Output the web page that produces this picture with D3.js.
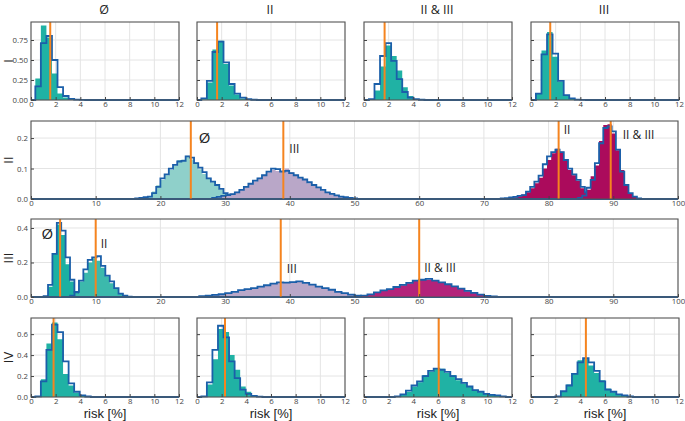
<!DOCTYPE html>
<html>
<head>
<meta charset="utf-8">
<script src="https://cdn.jsdelivr.net/npm/d3@7"></script>
<style>
body{margin:0;background:#fff}
text{font-family:"Open Sans",sans-serif}
</style>
</head>
<body>
<svg id="chart" width="685" height="421"></svg>
<script>
// ---- data ----
const columns = ["Ø", "II", "II & III", "III"];
const rows = ["I", "II", "III", "IV"];
const xLabel = "risk [%]";

const smallTicks = [0, 2, 4, 6, 8, 10, 12];
const wideTicks = [0, 10, 20, 30, 40, 50, 60, 70, 80, 90, 100];
const rowITicksY = [0, 0.25, 0.5, 0.75];
const rowIITicksY = [0, 0.1, 0.2];
const rowIIITicksY = [0, 0.2, 0.4];
const rowIVTicksY = [0, 0.2, 0.4, 0.6];

// row I : one histogram per column, bin width 0.45
const rowIStart = [0.35, 0.35, 0.4, 0.4];
const rowIFill = [
  [0.27, 0.93, 0.78, 0.33, 0.08, 0.03, 0.01, 0.003, 0.001],
  [0.01, 0.22, 0.63, 0.74, 0.45, 0.18, 0.07, 0.02, 0.01, 0.003],
  [0.005, 0.12, 0.42, 0.68, 0.55, 0.37, 0.16, 0.05, 0.01, 0.003],
  [0.08, 0.62, 0.85, 0.54, 0.23, 0.06, 0.015, 0.004, 0.001]
];
const rowIOutline = [
  [0.17, 0.71, 0.80, 0.50, 0.16, 0.05, 0.015, 0.005, 0.002],
  [0.02, 0.24, 0.60, 0.73, 0.47, 0.20, 0.08, 0.03, 0.01, 0.003],
  [0.01, 0.20, 0.55, 0.71, 0.49, 0.26, 0.10, 0.03, 0.01, 0.003],
  [0.08, 0.57, 0.82, 0.58, 0.24, 0.06, 0.02, 0.005, 0.002]
];
const rowIMean = [1.56, 1.63, 1.67, 1.56];

// row IV : one histogram per column, bin width 0.45
const rowIVStart = [0.35, 0.35, 2.5, 1.97];
const rowIVFill = [
  [0.004, 0.17, 0.51, 0.71, 0.55, 0.22, 0.11, 0.04, 0.01, 0.004],
  [0.004, 0.12, 0.36, 0.65, 0.62, 0.40, 0.26, 0.10, 0.05, 0.02, 0.008],
  [0.004, 0.02, 0.05, 0.10, 0.14, 0.21, 0.24, 0.275, 0.27, 0.23, 0.21, 0.16, 0.13, 0.095, 0.07, 0.045, 0.03, 0.02, 0.012, 0.005],
  [0.004, 0.05, 0.12, 0.23, 0.35, 0.37, 0.30, 0.23, 0.16, 0.08, 0.045, 0.028, 0.012, 0.004]
];
const rowIVOutline = [
  [0.006, 0.15, 0.45, 0.69, 0.62, 0.34, 0.13, 0.05, 0.015, 0.005],
  [0.006, 0.14, 0.45, 0.68, 0.57, 0.34, 0.18, 0.07, 0.03, 0.01, 0.004],
  [0.006, 0.025, 0.06, 0.11, 0.15, 0.20, 0.25, 0.27, 0.26, 0.24, 0.20, 0.17, 0.135, 0.10, 0.065, 0.05, 0.03, 0.02, 0.015, 0.006],
  [0.006, 0.055, 0.11, 0.22, 0.33, 0.37, 0.33, 0.25, 0.15, 0.07, 0.05, 0.025, 0.015, 0.005]
];
const rowIVMean = [1.83, 2.27, 6.06, 4.45];

// row II : all four sets on one wide axis
const rowIISeries = ["Ø", "III", "II", "II & III"];
const rowIIStart = [16.1, 28, 72.6, 84.55];
const rowIIBin = [0.65, 0.7, 0.65, 0.65];
const rowIIFill = [
  [0.001, 0.003, 0.005, 0.01, 0.025, 0.045, 0.062, 0.078, 0.095, 0.11, 0.128, 0.13, 0.142, 0.13, 0.12, 0.098, 0.082, 0.07, 0.055, 0.045, 0.03, 0.02, 0.012, 0.006, 0.003, 0.001, 0.001],
  [0.003, 0.006, 0.009, 0.012, 0.017, 0.024, 0.032, 0.042, 0.052, 0.058, 0.07, 0.08, 0.088, 0.095, 0.092, 0.094, 0.1, 0.088, 0.08, 0.072, 0.062, 0.052, 0.045, 0.036, 0.028, 0.021, 0.016, 0.011, 0.007, 0.005, 0.003, 0.002],
  [0.001, 0.003, 0.004, 0.006, 0.009, 0.015, 0.022, 0.035, 0.052, 0.07, 0.1, 0.128, 0.15, 0.165, 0.155, 0.13, 0.095, 0.078, 0.06, 0.035, 0.02, 0.01, 0.004, 0.001],
  [0.003, 0.013, 0.03, 0.075, 0.11, 0.19, 0.243, 0.245, 0.215, 0.16, 0.095, 0.044, 0.018, 0.007, 0.002]
];
const rowIIOutline = [
  [0.002, 0.004, 0.006, 0.008, 0.019, 0.04, 0.068, 0.081, 0.10, 0.112, 0.123, 0.125, 0.14, 0.136, 0.118, 0.103, 0.088, 0.068, 0.057, 0.046, 0.033, 0.019, 0.013, 0.008, 0.004, 0.002, 0.001],
  [0.004, 0.007, 0.01, 0.013, 0.016, 0.022, 0.03, 0.04, 0.05, 0.06, 0.068, 0.078, 0.09, 0.1, 0.098, 0.09, 0.092, 0.085, 0.078, 0.07, 0.064, 0.055, 0.046, 0.038, 0.03, 0.022, 0.017, 0.012, 0.008, 0.006, 0.004, 0.002],
  [0.002, 0.003, 0.005, 0.007, 0.01, 0.013, 0.024, 0.04, 0.057, 0.077, 0.114, 0.14, 0.154, 0.162, 0.154, 0.128, 0.10, 0.081, 0.063, 0.04, 0.022, 0.013, 0.005, 0.002],
  [0.004, 0.011, 0.037, 0.063, 0.118, 0.183, 0.233, 0.238, 0.222, 0.162, 0.09, 0.046, 0.019, 0.008, 0.002]
];
const rowIIMean = [24.7, 39.0, 81.55, 89.6];
const rowIILabelY = [0.2, 0.165, 0.227, 0.21];

// row III : all four sets on one wide axis
const rowIIISeries = ["Ø", "II", "III", "II & III"];
const rowIIIStart = [1.95, 6.05, 26, 50];
const rowIIIBin = [0.68, 0.68, 1.0, 1.0];
const rowIIIFill = [
  [0.003, 0.06, 0.25, 0.42, 0.36, 0.19, 0.09, 0.023, 0.006, 0.001],
  [0.005, 0.02, 0.09, 0.14, 0.2, 0.225, 0.21, 0.17, 0.12, 0.08, 0.05, 0.02, 0.007, 0.002],
  [0.004, 0.007, 0.011, 0.015, 0.02, 0.028, 0.038, 0.045, 0.05, 0.058, 0.066, 0.075, 0.083, 0.086, 0.088, 0.087, 0.08, 0.07, 0.061, 0.05, 0.04, 0.031, 0.022, 0.013, 0.007, 0.003],
  [0.003, 0.007, 0.013, 0.024, 0.036, 0.045, 0.056, 0.068, 0.08, 0.092, 0.098, 0.1, 0.097, 0.086, 0.072, 0.06, 0.047, 0.034, 0.023, 0.013, 0.006, 0.002]
];
const rowIIIOutline = [
  [0.005, 0.07, 0.25, 0.43, 0.385, 0.23, 0.10, 0.027, 0.008, 0.002],
  [0.008, 0.03, 0.095, 0.16, 0.215, 0.23, 0.236, 0.18, 0.124, 0.09, 0.052, 0.02, 0.008, 0.002],
  [0.005, 0.008, 0.012, 0.016, 0.022, 0.03, 0.04, 0.046, 0.052, 0.06, 0.068, 0.078, 0.085, 0.083, 0.086, 0.09, 0.082, 0.072, 0.06, 0.052, 0.042, 0.03, 0.023, 0.014, 0.008, 0.004],
  [0.004, 0.008, 0.015, 0.027, 0.038, 0.046, 0.058, 0.07, 0.082, 0.095, 0.1, 0.105, 0.095, 0.085, 0.074, 0.062, 0.048, 0.035, 0.024, 0.014, 0.007, 0.003]
];
const rowIIIMean = [4.5, 10.0, 38.6, 60.0];
const rowIIILabelY = [0.367, 0.31, 0.164, 0.17];

// ---- styles ----
const teal = "#20b2a4";
const edge = "#1b5fa9";
const orange = "#f5841f";
const rowIIColors = ["#8fd0ca", "#b9a7c8", "#ab0b5c", "#ab0b5c"];
const rowIIIColors = ["#1cb0a2", "#3cb9ac", "#b9a7c8", "#b3237a"];
const rowIILabelDx = [8, 6, 5, 12];
const rowIIILabelDx = [-7, 5, 6, 5];

const svg = d3.select("#chart");
const smallX = [31, 197, 364, 531];
const smallW = 148;
const wideX = 31, wideW = 647;
const rowY = [22, 121, 219, 318];
const rowH = [78, 78, 78, 79];

function panel(opts) {
  const g = svg.append("g").attr("transform", `translate(${opts.left},${opts.top})`);
  const x = d3.scaleLinear().domain(opts.xDomain).range([0, opts.width]);
  const y = d3.scaleLinear().domain(opts.yDomain).range([opts.height, 0]);

  // grid
  g.append("g").selectAll("line").data(opts.xTicks).join("line")
    .attr("x1", d => x(d)).attr("x2", d => x(d)).attr("y1", 0).attr("y2", opts.height)
    .attr("stroke", "#e4e4e4").attr("stroke-width", 1);
  g.append("g").selectAll("line").data(opts.yTicks).join("line")
    .attr("x1", 0).attr("x2", opts.width).attr("y1", d => y(d)).attr("y2", d => y(d))
    .attr("stroke", "#e4e4e4").attr("stroke-width", 1);

  const area = d3.area().curve(d3.curveStepAfter)
    .x(d => x(d[0])).y0(y(0)).y1(d => y(d[1]));
  const line = d3.line().curve(d3.curveStepAfter)
    .x(d => x(d[0])).y(d => y(d[1]));

  opts.series.forEach(s => {
    const pts = s.fill.map((v, i) => [s.start + i * s.bin, v]);
    pts.push([s.start + s.fill.length * s.bin, 0]);
    g.append("path").attr("d", area(pts)).attr("fill", s.color).attr("stroke", "none");
    const steps = s.outline.map((v, i) => [s.start + i * s.bin, v]);
    const ol = [[opts.xDomain[0], 0]].concat(steps);
    ol.push([s.start + s.outline.length * s.bin, 0]);
    ol.push([opts.xDomain[1], 0]);
    g.append("path").attr("d", line(ol)).attr("fill", "none")
      .attr("stroke", edge).attr("stroke-width", 1.8).attr("stroke-linejoin", "miter");
  });

  opts.series.forEach(s => {
    g.append("line").attr("x1", x(s.mean)).attr("x2", x(s.mean))
      .attr("y1", 0).attr("y2", opts.height)
      .attr("stroke", orange).attr("stroke-width", 2);
    if (s.label) {
      g.append("text").attr("x", x(s.mean) + s.dx).attr("y", y(s.ly))
        .attr("dy", "0.35em")
        .attr("text-anchor", s.dx < 0 ? "end" : "start")
        .attr("font-size", s.label === "Ø" ? 15 : 12)
        .attr("fill", "#222").text(s.label);
    }
  });

  // frame
  g.append("rect").attr("width", opts.width).attr("height", opts.height)
    .attr("fill", "none").attr("stroke", "#555").attr("stroke-width", 1.1);

  const xa = g.append("g").attr("transform", `translate(0,${opts.height})`)
    .call(d3.axisBottom(x).tickValues(opts.xTicks).tickSize(-3).tickPadding(1.5).tickFormat(d3.format("d")));
  const ya = g.append("g")
    .call(d3.axisLeft(y).tickValues(opts.yTicks).tickSize(-3).tickPadding(3)
      .tickFormat(opts.showY ? d3.format(opts.yFormat) : ""));
  [xa, ya].forEach(a => {
    a.select(".domain").remove();
    a.selectAll("line").attr("stroke", "#444");
    a.selectAll("text").attr("fill", "#444").attr("font-size", 7.8)
      .style("font-family", "'Open Sans',sans-serif");
  });
  return g;
}

// row I
columns.forEach((c, i) => {
  panel({
    left: smallX[i], top: rowY[0], width: smallW, height: rowH[0],
    xDomain: [0, 12], yDomain: [0, 0.975], xTicks: smallTicks, yTicks: rowITicksY,
    showY: i === 0, yFormat: ".2f",
    series: [{start: rowIStart[i], bin: 0.45, fill: rowIFill[i], outline: rowIOutline[i], mean: rowIMean[i], color: teal}]
  });
});

// row II
panel({
  left: wideX, top: rowY[1], width: wideW, height: rowH[1],
  xDomain: [0, 100], yDomain: [0, 0.256], xTicks: wideTicks, yTicks: rowIITicksY,
  showY: true, yFormat: ".1f",
  series: rowIISeries.map((n, i) => ({start: rowIIStart[i], bin: rowIIBin[i], fill: rowIIFill[i],
    outline: rowIIOutline[i], mean: rowIIMean[i], color: rowIIColors[i],
    label: n, ly: rowIILabelY[i], dx: rowIILabelDx[i]}))
});

// row III
panel({
  left: wideX, top: rowY[2], width: wideW, height: rowH[2],
  xDomain: [0, 100], yDomain: [0, 0.452], xTicks: wideTicks, yTicks: rowIIITicksY,
  showY: true, yFormat: ".1f",
  series: rowIIISeries.map((n, i) => ({start: rowIIIStart[i], bin: rowIIIBin[i], fill: rowIIIFill[i],
    outline: rowIIIOutline[i], mean: rowIIIMean[i], color: rowIIIColors[i],
    label: n, ly: rowIIILabelY[i], dx: rowIIILabelDx[i]}))
});

// row IV
columns.forEach((c, i) => {
  panel({
    left: smallX[i], top: rowY[3], width: smallW, height: rowH[3],
    xDomain: [0, 12], yDomain: [0, 0.754], xTicks: smallTicks, yTicks: rowIVTicksY,
    showY: i === 0, yFormat: ".1f",
    series: [{start: rowIVStart[i], bin: 0.45, fill: rowIVFill[i], outline: rowIVOutline[i], mean: rowIVMean[i], color: teal}]
  });
  svg.append("text").attr("x", smallX[i] + smallW / 2).attr("y", 417.5)
    .attr("text-anchor", "middle").attr("font-size", 13)
    .style("font-family", "'Liberation Sans',sans-serif")
    .attr("fill", "#222").text(xLabel);
});

// column titles
columns.forEach((c, i) => {
  svg.append("text").attr("x", smallX[i] + smallW / 2 - 1).attr("y", 13.5)
    .attr("text-anchor", "middle").attr("font-size", 12.5)
    .attr("fill", "#222").text(c);
});

// row titles
rows.forEach((r, i) => {
  svg.append("text")
    .attr("transform", `translate(13,${rowY[i] + rowH[i] / 2}) rotate(-90)`)
    .attr("text-anchor", "middle").attr("font-size", 13).attr("fill", "#222").text(r);
});
</script>
</body>
</html>
